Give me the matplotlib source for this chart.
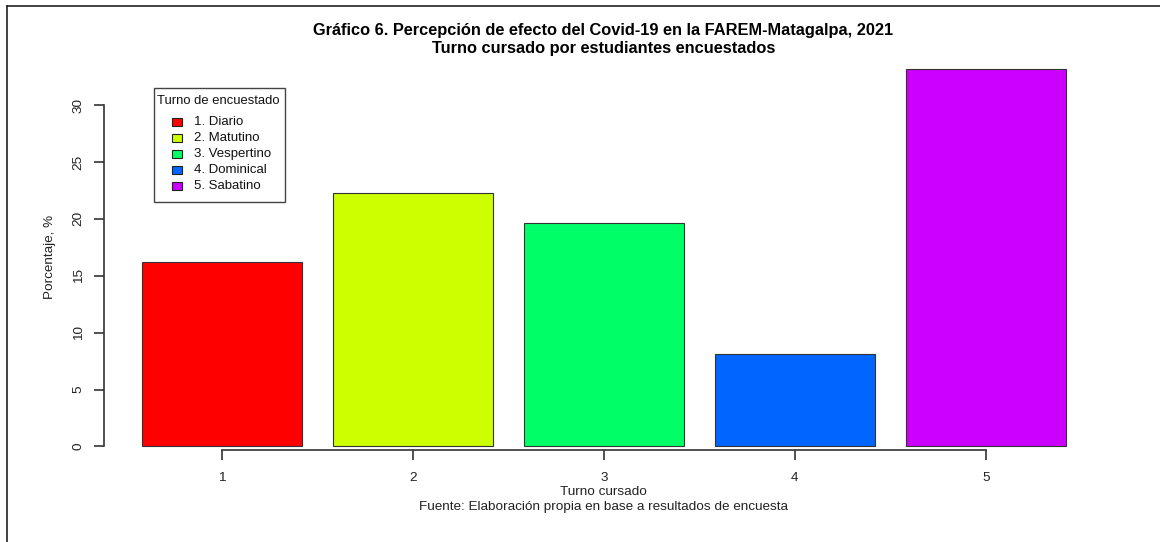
import matplotlib
matplotlib.use("Agg")
from matplotlib import pyplot as plt
from matplotlib.patches import Rectangle
from matplotlib.lines import Line2D

plt.rcParams['font.family'] = ['Liberation Sans', 'DejaVu Sans']

# datos
turnos = [1, 2, 3, 4, 5]
porcentaje = [16.2, 22.3, 19.6, 8.1, 33.2]
etiquetas = ["1. Diario", "2. Matutino", "3. Vespertino", "4. Dominical", "5. Sabatino"]
colores = ["#FF0000", "#CCFF00", "#00FF66", "#0066FF", "#CC00FF"]

W, H = 1160, 542
fig = plt.figure(figsize=(W / 100, H / 100), dpi=100)

# area de grafico (en pixeles de la imagen)
left, right, top, bottom = 104, 1103, 55, 450
ax = fig.add_axes([left / W, 1 - bottom / H, (right - left) / W, (bottom - top) / H])

ax.bar(turnos, porcentaje, width=0.838, color=colores, edgecolor="#333333", linewidth=0.8)

ax.set_xlim(0.382, 5.613)
ax.set_ylim(-0.31, 34.4)

for s in ["top", "right"]:
    ax.spines[s].set_visible(False)
ax.spines["left"].set_bounds(0, 30)
ax.spines["bottom"].set_bounds(1, 5)
ax.spines["left"].set_color("#333333")
ax.spines["bottom"].set_color("#333333")
ax.spines["left"].set_linewidth(1.2)
ax.spines["bottom"].set_linewidth(1.2)

ax.set_xticks(turnos)
ax.set_yticks([0, 5, 10, 15, 20, 25, 30])
ax.tick_params(axis="both", length=7, width=1.2, color="#333333", labelsize=9.7, labelcolor="#222222")
ax.tick_params(axis="x", pad=9)
ax.tick_params(axis="y", pad=7)
for lb in ax.get_yticklabels():
    lb.set_rotation(90)
    lb.set_va("center")

ax.set_ylabel("Porcentaje, %", fontsize=9.7, color="#222222")
ax.yaxis.set_label_coords((56 - left) / (right - left), 1 - (257 - top) / (bottom - top))

cx = (left + right) / 2 / W
fig.text(cx, 1 - 30 / H,
         "Gráfico 6. Percepción de efecto del Covid-19 en la FAREM-Matagalpa, 2021",
         ha="center", va="center", fontsize=11.8, fontweight="bold")
fig.text(cx, 1 - 48 / H, "Turno cursado por estudiantes encuestados",
         ha="center", va="center", fontsize=11.8, fontweight="bold")
fig.text(cx, 1 - 492 / H, "Turno cursado",
         ha="center", va="center", fontsize=9.7, color="#222222")
fig.text(cx, 1 - 507 / H, "Fuente: Elaboración propia en base a resultados de encuesta",
         ha="center", va="center", fontsize=9.7, color="#222222")

# leyenda dibujada a mano (estilo R)
def px(x, y):
    return x / W, 1 - y / H

fig.add_artist(Rectangle(px(154, 202), 131 / W, 114 / H, transform=fig.transFigure,
                         facecolor="white", edgecolor="#444444", linewidth=1.0))
fig.text(*px(157, 101), "Turno de encuestado", ha="left", va="center", fontsize=9.4, color="#111111")
for i, (c, t) in enumerate(zip(colores, etiquetas)):
    yc = 122 + 16 * i
    fig.add_artist(Rectangle(px(172, yc + 4), 10 / W, 8 / H, transform=fig.transFigure,
                             facecolor=c, edgecolor="#222222", linewidth=0.8))
    fig.text(*px(194, yc), t, ha="left", va="center", fontsize=9.5, color="#111111")

# marco de la imagen
fig.add_artist(Line2D([7 / W, 7 / W], [0, 1 - 6 / H], color="#222222", linewidth=1.2))
fig.add_artist(Line2D([7 / W, 1], [1 - 6 / H, 1 - 6 / H], color="#222222", linewidth=1.2))

fig.savefig("out.png", dpi=100)
